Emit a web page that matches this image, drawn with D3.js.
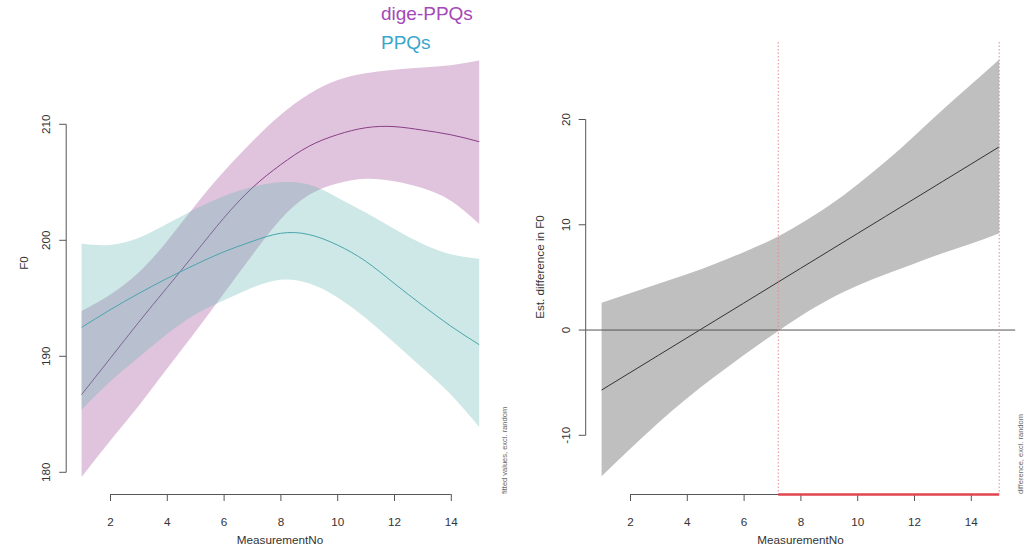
<!DOCTYPE html>
<html>
<head>
<meta charset="utf-8">
<script src="https://cdn.jsdelivr.net/npm/d3@7"></script>
<style>
  html, body { margin: 0; padding: 0; background: #fff; }
  svg { display: block; font-family: "Liberation Sans", Arial, Helvetica, sans-serif; }
</style>
</head>
<body>
<svg id="chart" width="1024" height="548"></svg>
<script>
// ---------------- data ----------------
const measurementNo = [1, 2, 3, 4, 5, 6, 7, 8, 9, 10, 11, 12, 13, 14, 15];

const groupNames = ["dige-PPQs", "PPQs"];

const digeFit   = [186.7, 189.8, 192.9, 195.9, 198.9, 201.9, 204.5, 206.5, 208.1, 209.1, 209.7, 209.8, 209.5, 209.1, 208.5];
const digeUpper = [193.9, 195.3, 197.2, 199.9, 203.0, 205.9, 208.5, 210.8, 212.6, 213.8, 214.4, 214.7, 214.9, 215.1, 215.5];
const digeLower = [179.6, 182.7, 185.7, 188.9, 192.1, 195.4, 198.7, 201.8, 203.9, 204.9, 205.3, 205.1, 204.5, 203.4, 201.4];

const ppqFit    = [192.5, 194.0, 195.4, 196.7, 197.9, 199.0, 199.9, 200.6, 200.5, 199.6, 198.2, 196.3, 194.4, 192.6, 191.0];
const ppqUpper  = [199.7, 199.6, 200.2, 201.4, 202.7, 203.8, 204.6, 205.0, 204.8, 203.7, 202.4, 201.0, 199.7, 198.8, 198.4];
const ppqLower  = [185.4, 187.8, 189.9, 191.9, 193.6, 194.8, 195.9, 196.6, 196.3, 195.1, 193.3, 191.2, 189.0, 186.7, 183.9];

const diffFit   = [-5.7, -4.05, -2.4, -0.75, 0.9, 2.55, 4.2, 5.85, 7.5, 9.15, 10.8, 12.45, 14.1, 15.75, 17.4];
const diffUpper = [2.6, 3.5, 4.4, 5.3, 6.3, 7.4, 8.6, 10.1, 11.8, 13.8, 16.0, 18.4, 20.9, 23.3, 25.7];
const diffLower = [-13.9, -11.3, -8.8, -6.5, -4.4, -2.4, -0.5, 1.3, 2.9, 4.2, 5.3, 6.3, 7.3, 8.2, 9.2];

const sigRegion = [7.22, 15];

const xTickValues      = [2, 4, 6, 8, 10, 12, 14];
const yTicksLeft       = [180, 190, 200, 210];
const yTicksRight      = [-10, 0, 10, 20];

// ---------------- drawing ----------------
const svg = d3.select("#chart");
svg.append("rect").attr("width", 1024).attr("height", 548).attr("fill", "#fff");

const axisCol = "#555";
const textCol = "#333";
const fs = 11.7;

// Left panel scales
const xL = d3.scaleLinear().domain([1, 15]).range([81.6, 479.2]);
const yL = d3.scaleLinear().domain([180, 210]).range([472.3, 124.3]);
// Right panel scales
const xR = d3.scaleLinear().domain([1, 15]).range([601.6, 999.2]);
const yR = d3.scaleLinear().domain([-10, 20]).range([435.3, 119.5]);

const curve = d3.curveNatural;

function band(x, y, lo, hi) {
  return d3.area()
    .x((d, i) => x(measurementNo[i]))
    .y0((d, i) => y(lo[i]))
    .y1((d, i) => y(hi[i]))
    .curve(curve)(measurementNo);
}
function line(x, y, v) {
  return d3.line()
    .x((d, i) => x(measurementNo[i]))
    .y((d, i) => y(v[i]))
    .curve(curve)(measurementNo);
}

function xAxis(x, yPos) {
  const g = svg.append("g").attr("transform", `translate(0,${yPos})`)
    .call(d3.axisBottom(x).tickValues(xTickValues).tickSize(7).tickPadding(17).tickFormat(d3.format("d")));
  g.select(".domain").remove();
  g.selectAll(".tick line").attr("stroke", axisCol);
  g.selectAll(".tick text").attr("fill", textCol).attr("font-size", fs).attr("font-family", "Liberation Sans, Arial, sans-serif");
  g.append("line").attr("x1", x(xTickValues[0])).attr("x2", x(xTickValues[xTickValues.length - 1]))
    .attr("y1", 0.5).attr("y2", 0.5).attr("stroke", axisCol);
  return g;
}
function yAxis(y, xPos, ticks, labelX) {
  const g = svg.append("g");
  g.append("line").attr("x1", xPos).attr("x2", xPos)
    .attr("y1", y(ticks[0])).attr("y2", y(ticks[ticks.length - 1])).attr("stroke", axisCol);
  ticks.forEach(t => {
    g.append("line").attr("x1", xPos - 7).attr("x2", xPos).attr("y1", y(t)).attr("y2", y(t)).attr("stroke", axisCol);
    g.append("text").attr("transform", `translate(${labelX},${y(t)}) rotate(-90)`)
      .attr("text-anchor", "middle").attr("font-size", fs).attr("fill", textCol).text(t);
  });
}

// ----- Left panel -----
svg.append("path").attr("d", band(xL, yL, digeLower, digeUpper)).attr("fill", "#9e4492").attr("fill-opacity", 0.32);
svg.append("path").attr("d", line(xL, yL, digeFit)).attr("fill", "none").attr("stroke", "#8a3f88").attr("stroke-width", 1);
svg.append("path").attr("d", band(xL, yL, ppqLower, ppqUpper)).attr("fill", "#63b7b1").attr("fill-opacity", 0.32);
svg.append("path").attr("d", line(xL, yL, ppqFit)).attr("fill", "none").attr("stroke", "#4aa6ae").attr("stroke-width", 1);

xAxis(xL, 494);
yAxis(yL, 66.2, yTicksLeft, 50);

svg.append("text").attr("x", 280).attr("y", 544).attr("text-anchor", "middle")
  .attr("font-size", fs).attr("fill", textCol).text("MeasurementNo");
svg.append("text").attr("transform", "translate(28,263) rotate(-90)").attr("text-anchor", "middle")
  .attr("font-size", fs).attr("fill", textCol).text("F0");
svg.append("text").attr("transform", "translate(507,494) rotate(-90)").attr("text-anchor", "start")
  .attr("font-size", 7.5).attr("fill", "#666").text("fitted values, excl. random");

// legend
const legendCols = ["#a548b8", "#3aa6cc"];
const legendY = [20, 48.5];
groupNames.forEach((n, i) => {
  svg.append("text").attr("x", 381).attr("y", legendY[i]).attr("font-size", 19)
    .attr("fill", legendCols[i]).text(n);
});

// ----- Right panel -----
svg.append("path").attr("d", band(xR, yR, diffLower, diffUpper)).attr("fill", "#bfbfbf");
svg.append("path").attr("d", line(xR, yR, diffFit)).attr("fill", "none").attr("stroke", "#333").attr("stroke-width", 1);

svg.append("line").attr("x1", 585.7).attr("x2", 1015.2).attr("y1", yR(0)).attr("y2", yR(0))
  .attr("stroke", "#555").attr("stroke-width", 1);

sigRegion.forEach(v => {
  svg.append("line").attr("x1", xR(v)).attr("x2", xR(v)).attr("y1", 42).attr("y2", 494)
    .attr("stroke", "#ea8a94").attr("stroke-width", 1).attr("stroke-dasharray", "1.5,2");
});

xAxis(xR, 494);
yAxis(yR, 585.7, yTicksRight, 569.5);

svg.append("line").attr("x1", xR(sigRegion[0])).attr("x2", xR(sigRegion[1])).attr("y1", 494.5).attr("y2", 494.5)
  .attr("stroke", "#e0454f").attr("stroke-width", 2.5);

svg.append("text").attr("x", 800.5).attr("y", 544).attr("text-anchor", "middle")
  .attr("font-size", fs).attr("fill", textCol).text("MeasurementNo");
svg.append("text").attr("transform", "translate(544,267) rotate(-90)").attr("text-anchor", "middle")
  .attr("font-size", fs).attr("fill", textCol).text("Est. difference in F0");
svg.append("text").attr("transform", "translate(1022.5,494) rotate(-90)").attr("text-anchor", "start")
  .attr("font-size", 7.5).attr("fill", "#666").text("difference, excl. random");
</script>
</body>
</html>
